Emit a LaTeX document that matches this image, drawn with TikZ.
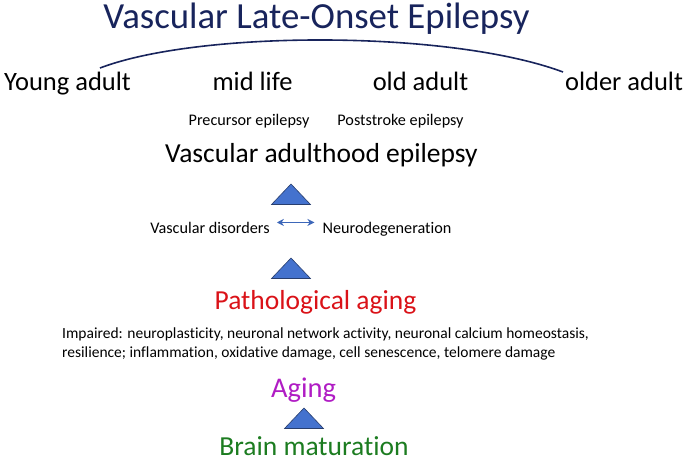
\documentclass[tikz,border=0pt]{standalone}
\usepackage{fontspec}
\setmainfont{Carlito}[Ligatures=CommonOff]
\usetikzlibrary{arrows.meta}

\definecolor{titlenavy}{RGB}{24,36,92}
\definecolor{tripblue}{RGB}{68,114,206}
\definecolor{tripedge}{RGB}{40,62,110}
\definecolor{pathred}{RGB}{218,18,24}
\definecolor{agepurple}{RGB}{176,28,196}
\definecolor{matgreen}{RGB}{28,124,32}

\newcommand{\uptri}[1]{\draw[tri] (#1) -- ++(19.5,20.5) -- ++(-39,0) -- cycle;}

\begin{document}
\begin{tikzpicture}[x=1pt,y=-1pt,
    every node/.style={inner sep=0pt,anchor=base},
    agelabel/.style={font=\fontsize{26.5}{28}\selectfont},
    smalllabel/.style={font=\fontsize{16.2}{18}\selectfont},
    stage/.style={font=\fontsize{27.5}{30}\selectfont},
    tri/.style={fill=tripblue,draw=tripedge,line width=0.6pt,line join=miter}]
  \useasboundingbox (0,0) rectangle (685,461);

  \node[font=\fontsize{36.8}{40}\selectfont,text=titlenavy] (title) at (316.5,28)
    {Vascular Late-Onset Epilepsy};

  \node[agelabel] (young) at (67.5,90) {Young adult};
  \node[agelabel] (mid) at (252.5,90) {mid life};
  \node[agelabel] (old) at (420.5,90) {old adult};
  \node[agelabel] (older) at (624,90) {older adult};

  \coordinate (arcleft) at (100,68);
  \coordinate (arcright) at (563,72);
  \draw[titlenavy,line width=1.6pt] (arcleft) .. controls (200,30) and (450,30) .. (arcright);

  \node[smalllabel] (precursor) at (249,125) {Precursor epilepsy};
  \node[smalllabel] (poststroke) at (400.5,125) {Poststroke epilepsy};

  \node[stage] (vascadult) at (321.5,162) {Vascular adulthood epilepsy};

  \coordinate (tritop) at (291,184);
  \uptri{tritop}

  \node[smalllabel] (vascdis) at (210,233) {Vascular disorders};
  \node[smalllabel] (neurodeg) at (387,233) {Neurodegeneration};
  \draw[{Stealth[length=7pt,width=7pt]}-{Stealth[length=7pt,width=7pt]},tripblue!90!black,line width=1.7pt,
    shorten <=7pt,shorten >=8pt] (vascdis.east) ++(0,-5) coordinate (dl) -- (dl -| neurodeg.west);

  \coordinate (trimid) at (291,258);
  \uptri{trimid}

  \node[stage,text=pathred] (pathaging) at (315.5,309) {Pathological aging};

  \node[font=\fontsize{15.5}{19}\selectfont,align=left,anchor=base west] (impaired) at (62,357)
    {Impaired: neuroplasticity, neuronal network activity, neuronal calcium homeostasis,\\
     resilience; inflammation, oxidative damage, cell senescence, telomere damage};

  \node[stage,text=agepurple,font=\fontsize{28.5}{30}\selectfont] (aging) at (303.5,397) {Aging};

  \coordinate (trilow) at (304,408);
  \uptri{trilow}

  \node[stage,text=matgreen] (brainmat) at (314,455) {Brain maturation};
\end{tikzpicture}
\end{document}
